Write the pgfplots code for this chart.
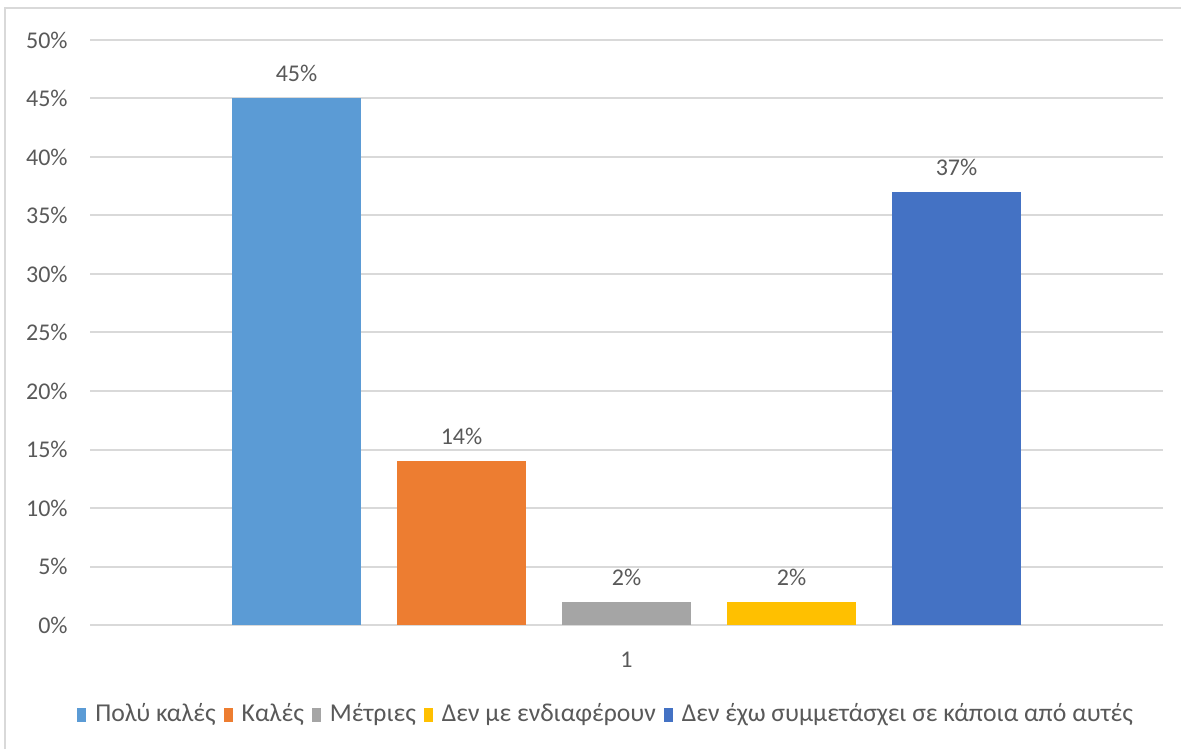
\documentclass[border=0pt]{standalone}
\usepackage{pgfplots}
\pgfplotsset{compat=1.18}
\usepackage{fontspec}
\setmainfont{Carlito}
\definecolor{c1}{HTML}{5B9BD5}
\definecolor{c2}{HTML}{ED7D31}
\definecolor{c3}{HTML}{A5A5A5}
\definecolor{c4}{HTML}{FFC000}
\definecolor{c5}{HTML}{4472C4}
\definecolor{txt}{HTML}{595959}
\definecolor{gridc}{HTML}{D9D9D9}
\begin{document}
\fontsize{12}{14}\selectfont
\begin{tikzpicture}
\useasboundingbox (0,0) rectangle (590.5pt,374.5pt);
\draw[gridc, line width=1pt] (2.5pt,0) -- (2.5pt,370.5pt) -- (590.5pt,370.5pt);
\begin{axis}[
  at={(45pt,62pt)}, anchor=south west,
  scale only axis, width=536.5pt, height=292.5pt,
  ymin=0, ymax=50, xmin=0.5, xmax=1.5,
  ytick={0,5,...,50}, xtick={1},
  /pgf/number format/assume math mode=true,
  yticklabel={\pgfmathprintnumber{\tick}\%},
  yticklabel style={anchor=east, inner sep=0pt, xshift=-11pt, text=txt},
  xticklabel style={anchor=north, inner sep=0pt, yshift=-13.5pt, text=txt},
  major tick length=0pt,
  axis line style={draw=none},
  ymajorgrids, grid style={gridc, line width=1pt},
  ybar=18pt, bar width=64.5pt,
  nodes near coords={\pgfmathprintnumber{\pgfplotspointmeta}\%},
  every node near coord/.append style={text=txt, inner sep=0pt, yshift=8pt},
  legend columns=-1,
  legend style={at={(0.482,-0.152)}, anchor=center, draw=none, text=txt,
    font=\fontsize{12.85}{15}\selectfont,
    /tikz/every odd column/.append style={column sep=2.5pt},
    /tikz/every even column/.append style={column sep=2pt}},
  legend image code/.code={\fill[#1] (0pt,-3.8pt) rectangle (4.5pt,3.2pt);},
]
\addplot[fill=c1, draw=none] coordinates {(1,45)};
\addplot[fill=c2, draw=none] coordinates {(1,14)};
\addplot[fill=c3, draw=none] coordinates {(1,2)};
\addplot[fill=c4, draw=none] coordinates {(1,2)};
\addplot[fill=c5, draw=none] coordinates {(1,37)};
\legend{Πολύ καλές, Καλές, Μέτριες, Δεν με ενδιαφέρουν, Δεν έχω συμμετάσχει σε κάποια από αυτές}
\end{axis}
\end{tikzpicture}
\end{document}
